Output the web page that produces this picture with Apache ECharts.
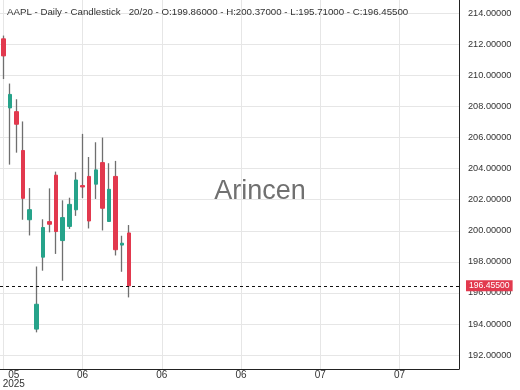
<!DOCTYPE html>
<html>
<head>
<meta charset="utf-8">
<script src="https://cdn.jsdelivr.net/npm/echarts@6/dist/echarts.min.js"></script>
<style>
html,body{margin:0;padding:0;background:#fff;}
#chart{width:520px;height:390px;}
</style>
</head>
<body>
<div id="chart"></div>
<script>
// ---- data ----
const symbol = 'AAPL';
const dates = ['2025-05-16','2025-05-19','2025-05-20','2025-05-21','2025-05-22','2025-05-23','2025-05-27','2025-05-28','2025-05-29','2025-05-30',
               '2025-06-02','2025-06-03','2025-06-04','2025-06-05','2025-06-06','2025-06-09','2025-06-10','2025-06-11','2025-06-12','2025-06-13'];
const opens  = [212.36,207.91,207.67,205.17,200.71,193.67,198.30,200.59,203.58,199.37,200.28,201.35,202.91,203.50,203.00,204.39,200.60,203.50,199.08,199.86];
const closes = [211.26,208.78,206.86,202.09,201.36,195.27,200.21,200.42,199.95,200.85,201.70,203.27,202.82,200.63,203.92,201.45,202.67,198.78,199.20,196.455];
const lows   = [209.77,204.26,205.03,200.71,199.70,193.46,197.43,199.90,198.51,196.78,200.12,200.96,202.10,200.15,202.05,200.02,200.57,198.41,197.36,195.71];
const highs  = [212.57,209.48,208.47,207.04,202.75,197.70,200.74,202.73,203.81,201.96,202.13,203.77,206.24,204.75,205.70,206.00,204.35,204.50,199.68,200.37];
const xTickIndex  = [0,12,24,36,48,60];
const xTickLabels = ['05','06','06','06','07','07'];
const xYearLabel  = '2025';
const yTicks = [192,194,196,198,200,202,204,206,208,210,212,214];

// ---- chart ----
const FONT = 'Liberation Sans';
const RED = '#e2394e', GREEN = '#26a38a', WICK = '#6f6f6f';
const n = opens.length;
const last = n - 1;
const wickData = opens.map((o, i) => [i, o, closes[i], lows[i], highs[i]]);
const bodyData = opens.map((o, i) => [i, o, closes[i], Math.min(o, closes[i]), Math.max(o, closes[i])]);
const titleText = `${symbol} - Daily - Candlestick   ${n}/${n} - O:${opens[last].toFixed(5)} - H:${highs[last].toFixed(5)} - L:${lows[last].toFixed(5)} - C:${closes[last].toFixed(5)}`;

const chart = echarts.init(document.getElementById('chart'));
chart.setOption({
  animation: false,
  backgroundColor: '#fff',
  textStyle: { fontFamily: FONT },
  title: {
    text: titleText, left: 2, top: 2,
    textStyle: { fontSize: 9.7, fontWeight: 'normal', color: '#333', fontFamily: FONT }
  },
  grid: { left: 0, right: 61, top: 0, bottom: 21, outerBoundsMode: 'none', containLabel: false },
  xAxis: {
    type: 'value', min: -0.5, max: 69,
    axisLine: { show: true, onZero: false, lineStyle: { color: '#222', width: 1 } },
    axisTick: { show: false, customValues: xTickIndex },
    splitLine: { show: true, lineStyle: { color: '#e6e6e6', width: 1 } },
    axisLabel: {
      customValues: xTickIndex, margin: 1, fontSize: 10, lineHeight: 9.5, color: '#333', fontFamily: FONT,
      formatter: function (v) {
        const i = xTickIndex.indexOf(v);
        if (i === 0) return '{f|' + xTickLabels[0] + '}\n{f|' + xYearLabel + '}';
        return i >= 0 ? xTickLabels[i] : '';
      },
      rich: { f: { width: 22, align: 'center', padding: [0, 0, 0, 21], fontSize: 10, lineHeight: 9.5, color: '#333', fontFamily: FONT } }
    }
  },
  yAxis: {
    type: 'value', position: 'right', min: 191.1, max: 214.86, scale: true,
    axisLine: { show: true, onZero: false, lineStyle: { color: '#222', width: 1 } },
    axisTick: { show: false, customValues: yTicks },
    splitLine: { show: true, lineStyle: { color: '#e6e6e6', width: 1 } },
    axisLabel: {
      customValues: yTicks, margin: 9, fontSize: 9.2, color: '#333', fontFamily: FONT,
      formatter: v => v.toFixed(5)
    }
  },
  graphic: [{
    type: 'text', x: 260, y: 192, z: 1,
    style: { text: 'Arincen', font: '27px ' + FONT, fill: '#707070', textAlign: 'center', textVerticalAlign: 'middle' }
  }],
  series: [
    {
      type: 'candlestick', name: 'wick', data: wickData, encode: { x: 0, y: [1, 2, 3, 4] },
      barWidth: 1, z: 3,
      itemStyle: { color: WICK, color0: WICK, borderColor: WICK, borderColor0: WICK, borderWidth: 1.3 }
    },
    {
      type: 'candlestick', name: 'body', data: bodyData, encode: { x: 0, y: [1, 2, 3, 4] },
      barWidth: 4, z: 4,
      itemStyle: { color: GREEN, color0: RED, borderColor: GREEN, borderColor0: RED, borderWidth: 1 },
      markLine: {
        silent: true, symbol: 'none', animation: false,
        lineStyle: { color: '#111', type: [3, 3], width: 1 },
        label: {
          show: true, position: 'end', distance: 7,
          formatter: () => closes[last].toFixed(5),
          backgroundColor: RED, color: '#fff', padding: [1, 3, 1, 3], fontSize: 8.6, fontFamily: FONT
        },
        data: [{ yAxis: closes[last] }]
      }
    }
  ]
});
</script>
</body>
</html>
